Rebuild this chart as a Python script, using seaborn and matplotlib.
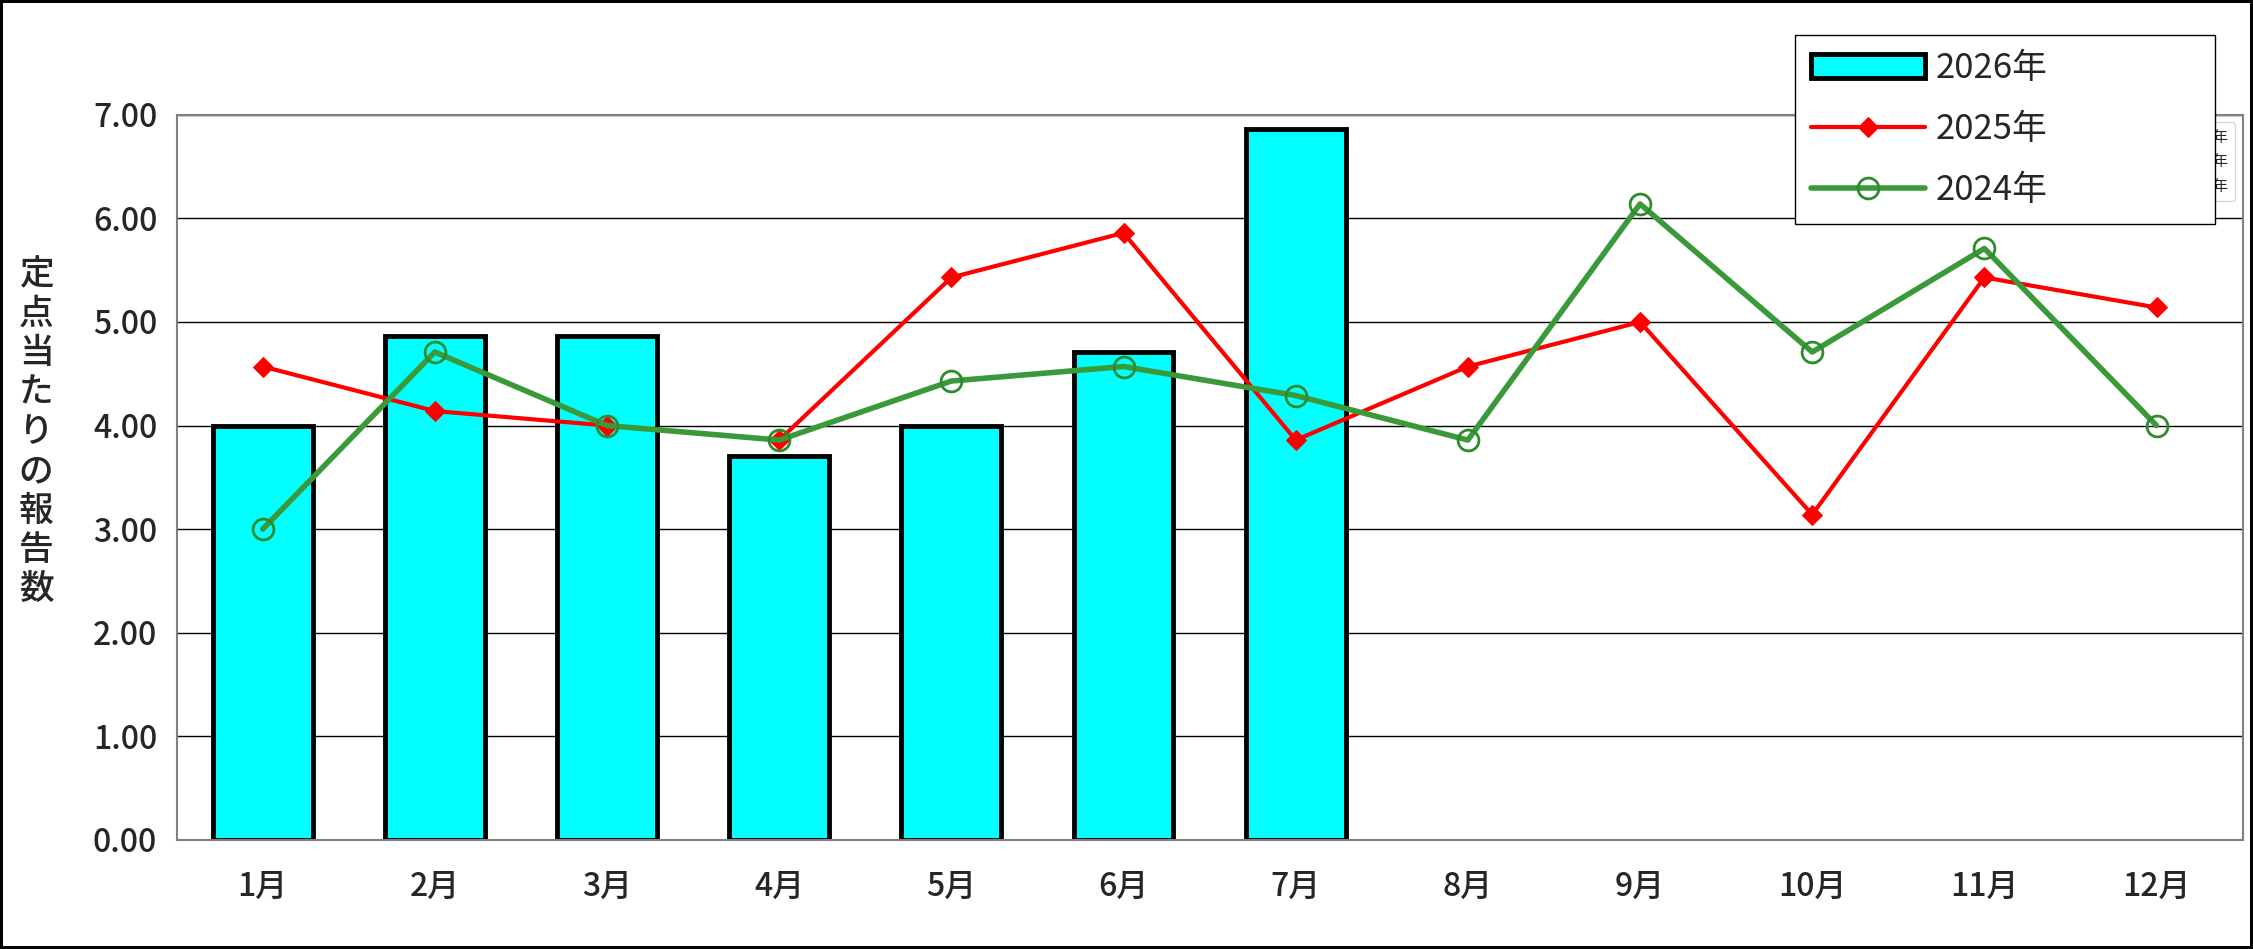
import numpy as np
import pandas as pd
import matplotlib
matplotlib.use("Agg")
import matplotlib.pyplot as plt
import seaborn as sns

months = ["1月","2月","3月","4月","5月","6月","7月","8月","9月","10月","11月","12月"]
v2026 = [4.00, 4.86, 4.86, 3.71, 4.00, 4.71, 6.86, np.nan, np.nan, np.nan, np.nan, np.nan]
v2025 = [4.57, 4.14, 4.00, 3.86, 5.43, 5.86, 3.86, 4.57, 5.00, 3.14, 5.43, 5.14]
v2024 = [3.00, 4.71, 4.00, 3.86, 4.43, 4.57, 4.29, 3.86, 6.14, 4.71, 5.71, 4.00]
yticks = [0, 1, 2, 3, 4, 5, 6, 7]

sns.set_theme(style="white")
plt.rcParams['font.family'] = ['Noto Sans CJK JP', 'DejaVu Sans']

fig = plt.figure(figsize=(22.53, 9.49), dpi=100)
fig.patch.set_edgecolor("black")
fig.patch.set_linewidth(3)
ax = fig.add_axes([0.0784, 0.115, 0.917, 0.764])

df = pd.DataFrame({"month": months, "v2026": v2026, "v2025": v2025, "v2024": v2024, "idx": range(12)})
sns.barplot(data=df, x="month", y="v2026", order=months, color="#00FFFF",
            edgecolor="black", linewidth=3.5, width=0.58, saturation=1, ax=ax, label="2026年")
sns.lineplot(data=df, x="idx", y="v2025", color="red", marker="D", markersize=10,
             markeredgecolor="red", linewidth=3, ax=ax, label="2025年")
sns.lineplot(data=df, x="idx", y="v2024", color="#3A9A3A", marker="o", markersize=15,
             markerfacecolor="none", markeredgecolor="#2E8B2E", markeredgewidth=2,
             linewidth=4, ax=ax, label="2024年")

ax.set_xlim(-0.5, 11.5)
ax.set_ylim(0, 7)
ax.set_yticks(yticks)
ax.set_yticklabels([f"{t:.2f}" for t in yticks], fontsize=23, fontweight="medium")
ax.set_xticks(range(12))
ax.set_xticklabels(months, fontsize=23, fontweight="medium")
ax.tick_params(axis="x", pad=16)
ax.tick_params(axis="y", pad=8)
ax.yaxis.grid(True, color="black", linewidth=1)
ax.set_axisbelow(True)
for s in ax.spines.values():
    s.set_color("#808080"); s.set_linewidth(1.5)
ax.set_xlabel("")
ax.set_ylabel("")
fig.text(0.016, 0.545, "\n".join("定点当たりの報告数"), fontsize=25, va="center", ha="center",
         linespacing=1.12, fontweight="medium")

h, l = ax.get_legend_handles_labels()
order = [l.index("2026年"), l.index("2025年"), l.index("2024年")]
leg = fig.legend([h[i] for i in order], [l[i] for i in order],
          loc="upper left", bbox_to_anchor=(0.789, 0.981, 0.202, 0.0),
          mode="expand", fontsize=25, frameon=True, fancybox=False, edgecolor="black",
          framealpha=1, borderpad=0.45, labelspacing=0.75, handlelength=3.3, handletextpad=0.3)
leg.get_frame().set_linewidth(1)
fig.savefig("out.png", dpi=100, edgecolor=fig.get_edgecolor())
